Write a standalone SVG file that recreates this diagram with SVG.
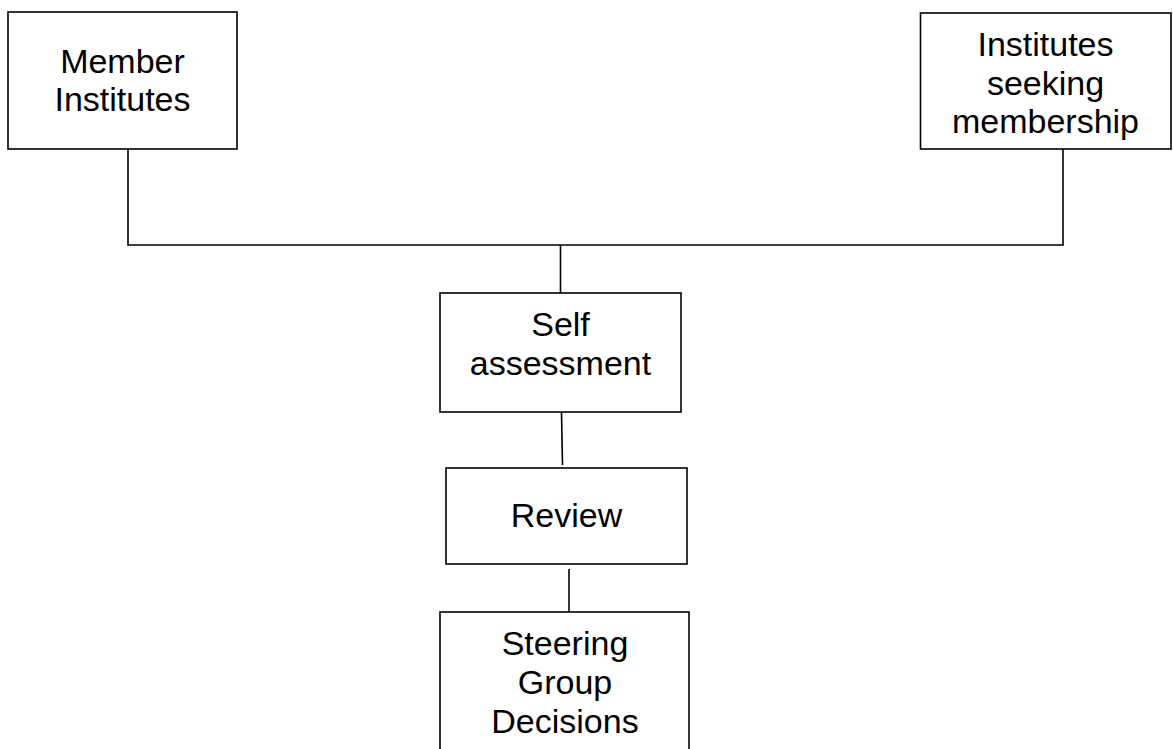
<svg xmlns="http://www.w3.org/2000/svg" width="1173" height="749" viewBox="0 0 1173 749">
<style>
.box{fill:#fff;stroke:#000;stroke-width:1.6}
.lbl{font-family:"Liberation Sans",Arial,sans-serif;font-size:34px;fill:#000;text-anchor:middle}
.con{fill:none;stroke:#000;stroke-width:1.6}
</style>
<rect width="1173" height="749" fill="#fff"/>
<g id="connectors">
<path class="con" d="M128,149 V245 H1063 V149"/>
<path class="con" d="M560.5,245 V293"/>
<path class="con" d="M561.5,412 L562.5,465"/>
<path class="con" d="M569,569 V612"/>
</g>
<g id="member-institutes">
<rect class="box" x="8" y="12" width="229" height="137"/>
<text class="lbl" x="122.5" y="73">Member</text>
<text class="lbl" x="122.5" y="111">Institutes</text>
</g>
<g id="institutes-seeking">
<rect class="box" x="920.5" y="13" width="250.5" height="136"/>
<text class="lbl" x="1045.5" y="56">Institutes</text>
<text class="lbl" x="1045.5" y="95">seeking</text>
<text class="lbl" x="1045.5" y="133">membership</text>
</g>
<g id="self-assessment">
<rect class="box" x="440" y="293" width="241" height="119"/>
<text class="lbl" x="560.5" y="335.5">Self</text>
<text class="lbl" x="560.5" y="375">assessment</text>
</g>
<g id="review">
<rect class="box" x="446" y="468" width="241" height="96"/>
<text class="lbl" x="566.5" y="527">Review</text>
</g>
<g id="steering-group">
<rect class="box" x="440" y="612" width="249" height="160"/>
<text class="lbl" x="565" y="655">Steering</text>
<text class="lbl" x="565" y="694">Group</text>
<text class="lbl" x="565" y="733">Decisions</text>
</g>
</svg>
